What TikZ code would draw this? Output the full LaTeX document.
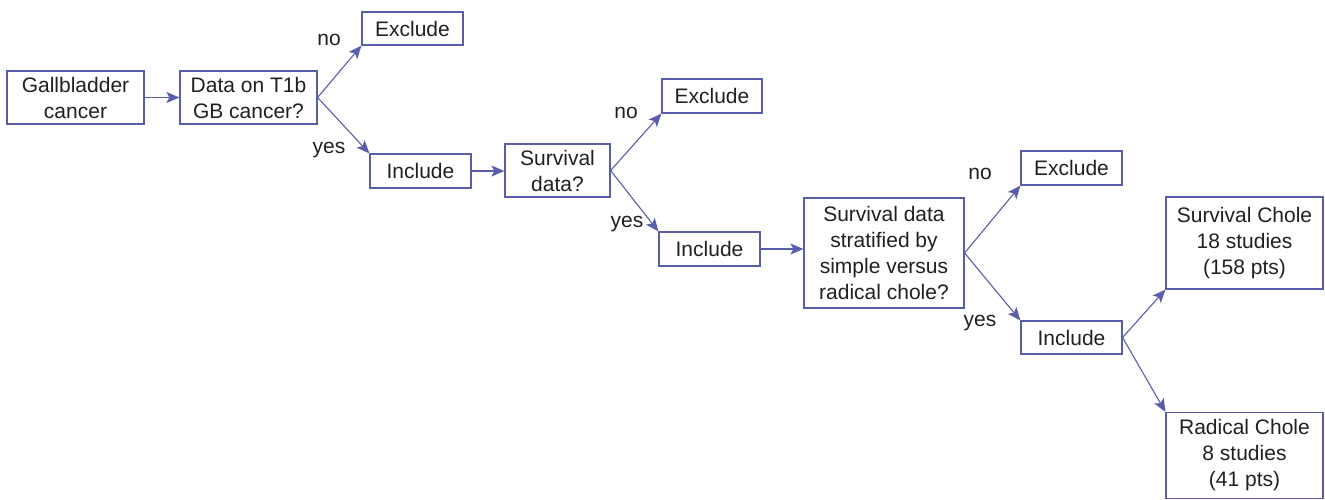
\documentclass[tikz,border=0pt]{standalone}
\usepackage{fontspec}
\setmainfont{Liberation Sans}
\usetikzlibrary{arrows.meta}
\definecolor{lineblue}{RGB}{88,94,170}
\definecolor{txt}{RGB}{35,31,32}
\begin{document}
\begin{tikzpicture}[x=1pt,y=-1pt,
  box/.style={draw=lineblue,line width=1.2pt,inner sep=0pt,align=center,text=txt,font=\fontsize{21}{26}\selectfont},
  conn/.style={draw=lineblue,line width=1.1pt,-{Stealth[length=13pt,width=11pt,inset=3pt]}},
  lbl/.style={text=txt,font=\fontsize{21}{26}\selectfont,inner sep=0pt}]
\useasboundingbox (0,0) rectangle (1325,500);
% boxes
\node[box,minimum width=137pt,minimum height=53pt] (g) at (75.5,97.5) {Gallbladder\\cancer};
\node[box,minimum width=137pt,minimum height=53pt] (d) at (248.5,97.5) {Data on T1b\\GB cancer?};
\node[box,minimum width=101pt,minimum height=33pt] (e1) at (412.5,28.5) {Exclude};
\node[box,minimum width=101pt,minimum height=34pt] (i1) at (420.5,171) {Include};
\node[box,minimum width=105pt,minimum height=53pt] (s) at (557.5,170.5) {Survival\\data?};
\node[box,minimum width=100pt,minimum height=34pt] (e2) at (712,96) {Exclude};
\node[box,minimum width=101pt,minimum height=34pt] (i2) at (709.5,249) {Include};
\node[box,minimum width=160pt,minimum height=110pt] (st) at (884,253) {Survival data\\stratified by\\simple versus\\radical chole?};
\node[box,minimum width=101pt,minimum height=34pt] (e3) at (1071.5,168) {Exclude};
\node[box,minimum width=101pt,minimum height=33pt] (i3) at (1071.5,337.5) {Include};
\node[box,minimum width=157pt,minimum height=92pt] (sc) at (1244.5,243) {Survival Chole\\18 studies\\(158 pts)};
\node[box,minimum width=157pt,minimum height=86pt] (rc) at (1244.5,455.5) {Radical Chole\\8 studies\\(41 pts)};
% labels
\node[lbl] (no1) at (329,40) {no};
\node[lbl] (yes1) at (329,150) {yes};
\node[lbl] (no2) at (626,113) {no};
\node[lbl] (yes2) at (627,224) {yes};
\node[lbl] (no3) at (980,174) {no};
\node[lbl] (yes3) at (980,323) {yes};
% connectors
\draw[conn] (g.east) -- (d.west);
\draw[conn] (d.east) -- (e1.south west);
\draw[conn] (d.east) -- (i1.north west);
\draw[conn] (i1.east) -- (i1.east -| s.west);
\draw[conn] (s.east) -- (e2.south west);
\draw[conn] (s.east) -- (i2.north west);
\draw[conn] (i2.east) -- (i2.east -| st.west);
\draw[conn] (st.east) -- (e3.south west);
\draw[conn] (st.east) -- (i3.north west);
\draw[conn] (i3.east) -- (sc.south west);
\draw[conn] (i3.east) -- (rc.north west);
\end{tikzpicture}
\end{document}
